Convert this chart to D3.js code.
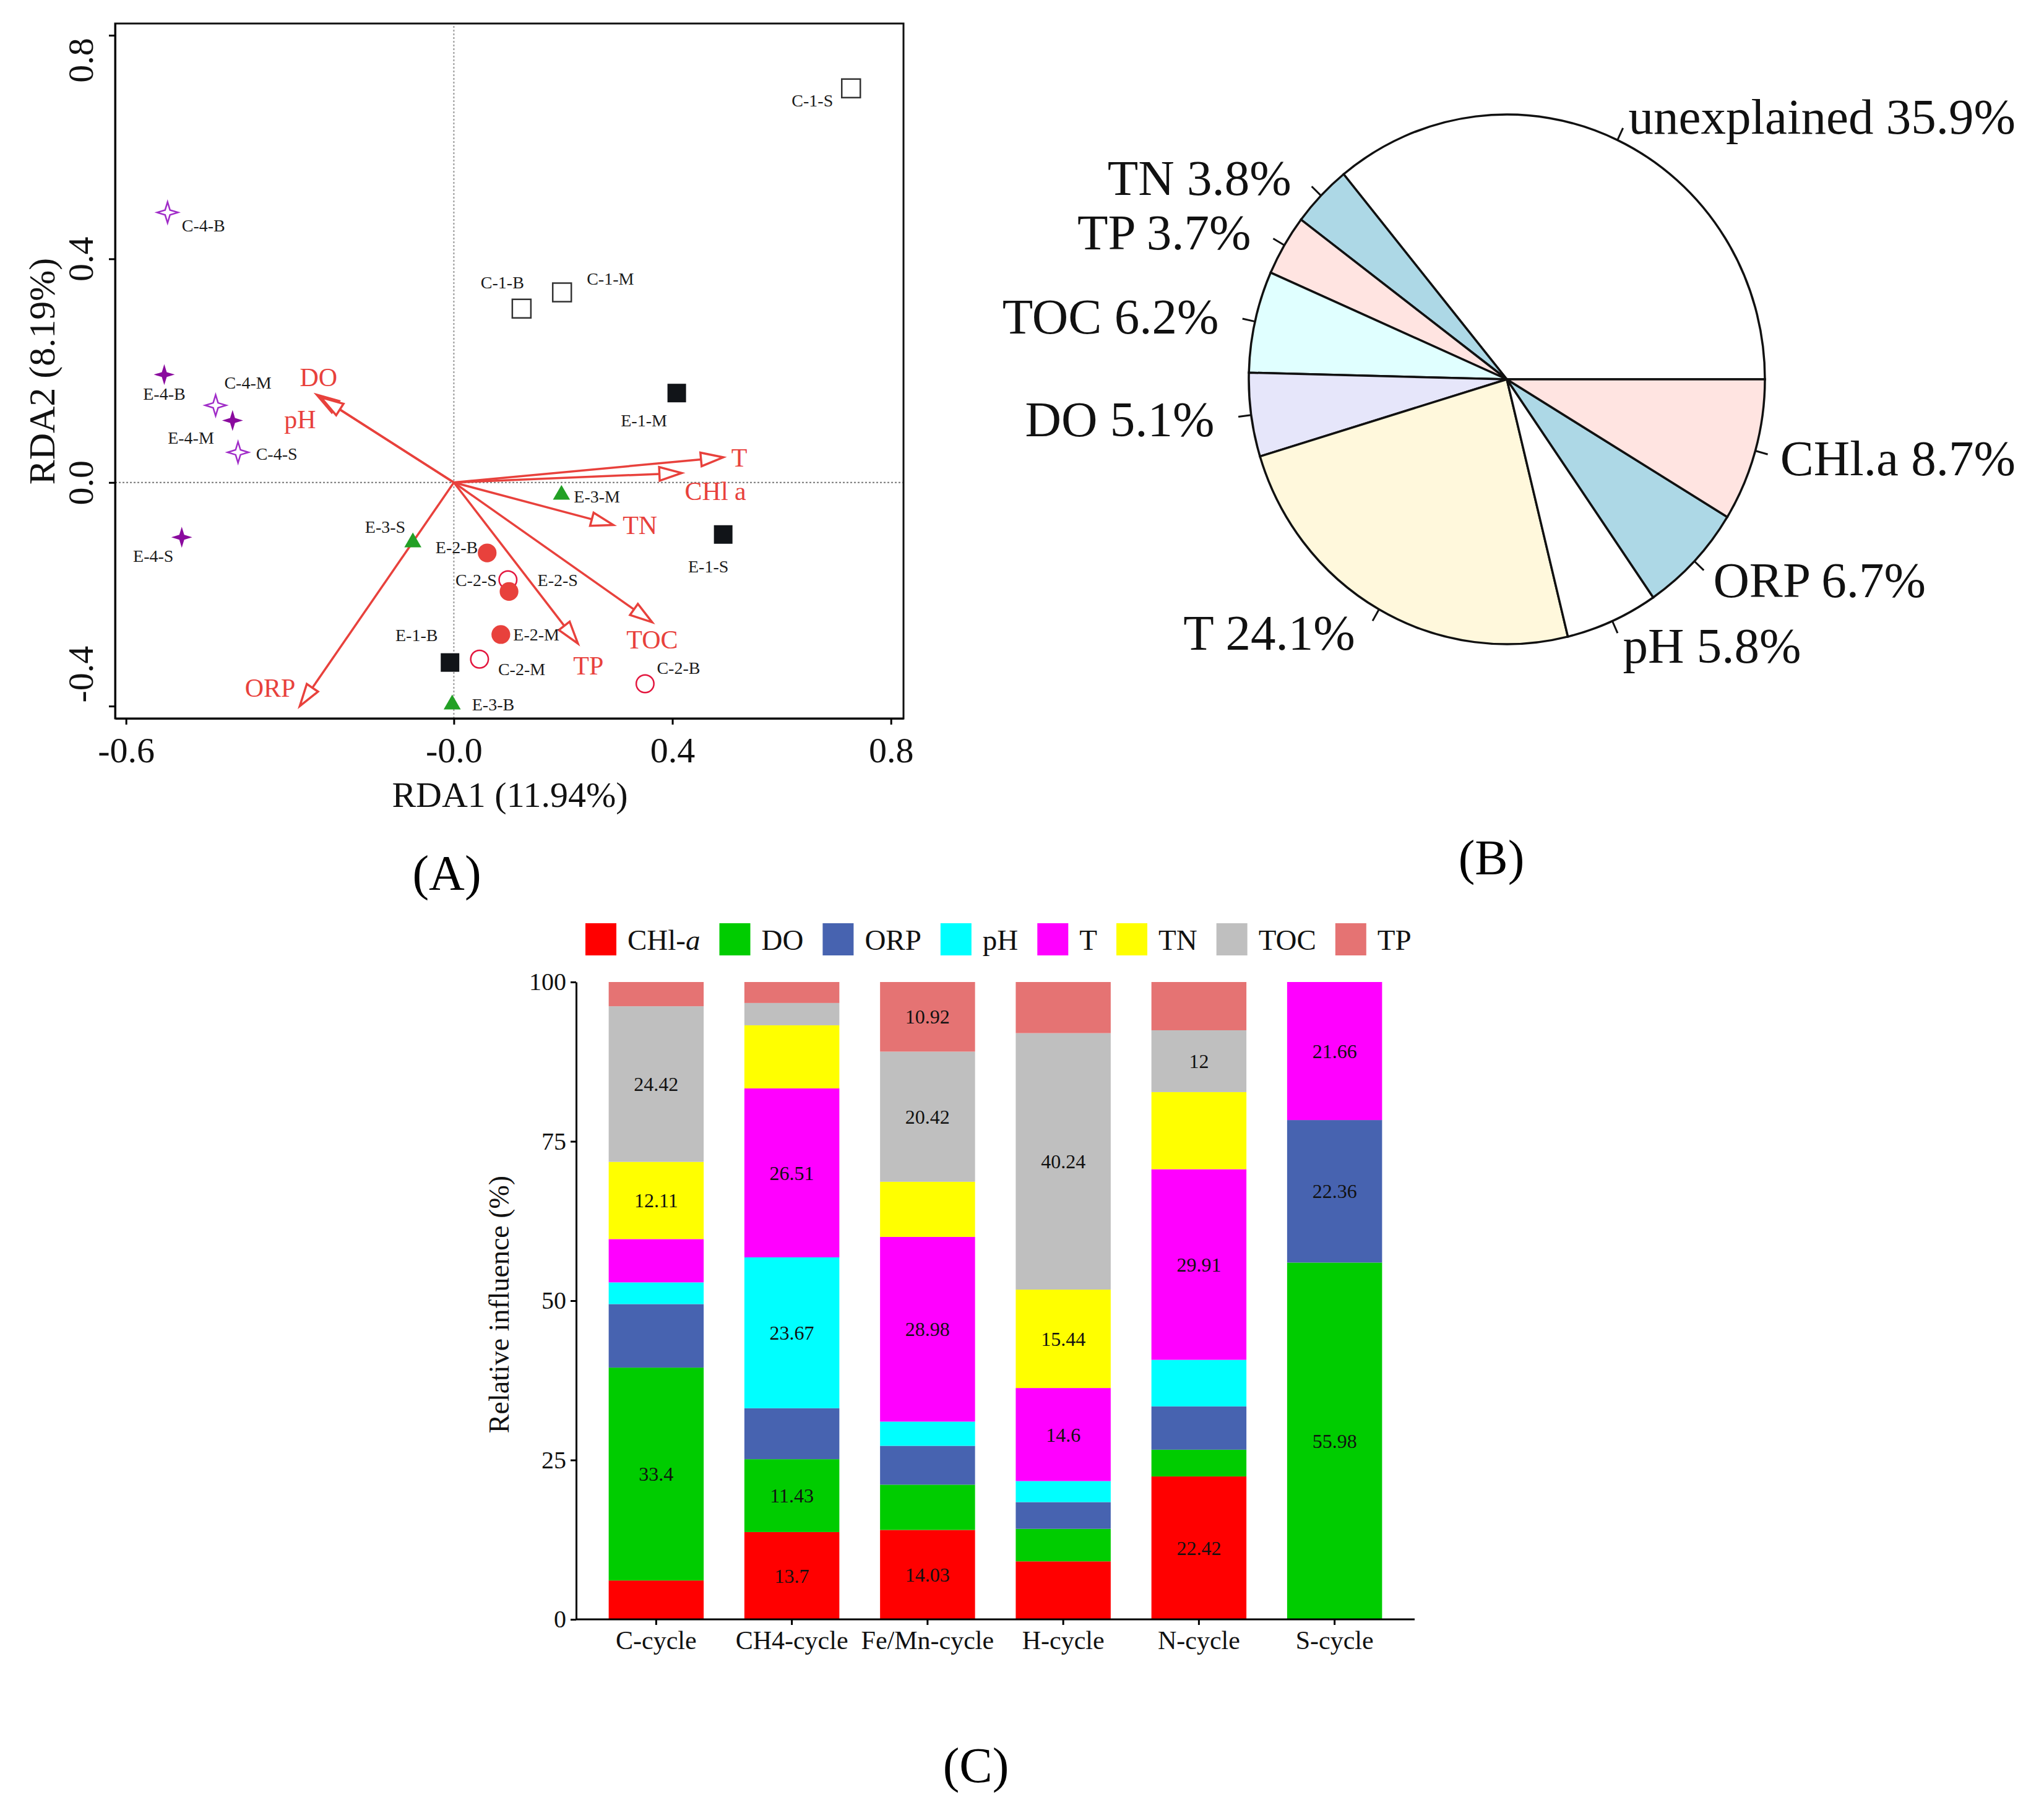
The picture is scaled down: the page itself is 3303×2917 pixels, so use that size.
<!DOCTYPE html>
<html>
<head>
<meta charset="utf-8">
<script src="https://cdn.jsdelivr.net/npm/d3@7"></script>
<style>
body { margin: 0; background: #fff; }
text { font-family: "Liberation Serif", "Times New Roman", serif; }
</style>
</head>
<body>
<svg id="svg1" width="3303" height="2917"></svg>
<script>
// ---------- (A) RDA biplot: sample scores
var sampleNames = ["C-1-S", "C-1-M", "C-1-B", "E-1-S", "E-1-M", "E-1-B",
                   "C-2-S", "C-2-M", "C-2-B", "E-2-S", "E-2-M", "E-2-B",
                   "E-3-S", "E-3-M", "E-3-B",
                   "C-4-S", "C-4-M", "C-4-B", "E-4-S", "E-4-M", "E-4-B"];
var rda1 = [0.727, 0.198, 0.124, 0.493, 0.408, -0.007,
            0.099, 0.047, 0.350, 0.101, 0.086, 0.061,
            -0.075, 0.197, -0.003,
            -0.395, -0.436, -0.524, -0.498, -0.405, -0.530];
var rda2 = [0.705, 0.340, 0.311, -0.093, 0.160, -0.322,
            -0.174, -0.316, -0.360, -0.195, -0.272, -0.126,
            -0.107, -0.022, -0.397,
            0.054, 0.138, 0.483, -0.098, 0.111, 0.193];

// environmental factor arrows
var envNames = ["DO", "pH", "T", "CHl a", "TN", "TOC", "TP", "ORP"];
var envRDA1 = [-0.251, -0.243, 0.493, 0.417, 0.292, 0.363, 0.227, -0.282];
var envRDA2 = [0.157, 0.152, 0.045, 0.017, -0.076, -0.250, -0.288, -0.400];

var xTicksA = [-0.6, 0, 0.4, 0.8];
var xTickLabelsA = ["-0.6", "-0.0", "0.4", "0.8"];
var yTicksA = [-0.4, 0, 0.4, 0.8];
var yTickLabelsA = ["-0.4", "0.0", "0.4", "0.8"];

// ---------- (B) variance partition pie
var pieNames = ["unexplained", "TN", "TP", "TOC", "DO", "T", "pH", "ORP", "CHl.a"];
var pieValues = [35.9, 3.8, 3.7, 6.2, 5.1, 24.1, 5.8, 6.7, 8.7];

// ---------- (C) relative influence, stacked bars
var cycles = ["C-cycle", "CH4-cycle", "Fe/Mn-cycle", "H-cycle", "N-cycle", "S-cycle"];
var factors = ["CHl-a", "DO", "ORP", "pH", "T", "TN", "TOC", "TP"];
var chlaVals = [6.1, 13.7, 14.03, 9.1, 22.42, 0];
var doVals   = [33.4, 11.43, 7.1, 5.1, 4.2, 55.98];
var orpVals  = [9.97, 8.0, 6.1, 4.2, 6.8, 22.36];
var phVals   = [3.4, 23.67, 3.8, 3.3, 7.3, 0];
var tVals    = [6.8, 26.51, 28.98, 14.6, 29.91, 21.66];
var tnVals   = [12.11, 9.9, 8.65, 15.44, 12.1, 0];
var tocVals  = [24.42, 3.5, 20.42, 40.24, 9.7, 0];
var tpVals   = [3.8, 3.29, 10.92, 8.02, 7.57, 0];
var yTicksC = [0, 25, 50, 75, 100];
// numbers printed inside the bars: [cycle, factor, text]
var barTexts = [
    ["C-cycle", "DO", "33.4"], ["C-cycle", "TN", "12.11"], ["C-cycle", "TOC", "24.42"],
    ["CH4-cycle", "CHl-a", "13.7"], ["CH4-cycle", "DO", "11.43"], ["CH4-cycle", "pH", "23.67"], ["CH4-cycle", "T", "26.51"],
    ["Fe/Mn-cycle", "CHl-a", "14.03"], ["Fe/Mn-cycle", "T", "28.98"], ["Fe/Mn-cycle", "TOC", "20.42"], ["Fe/Mn-cycle", "TP", "10.92"],
    ["H-cycle", "T", "14.6"], ["H-cycle", "TN", "15.44"], ["H-cycle", "TOC", "40.24"],
    ["N-cycle", "CHl-a", "22.42"], ["N-cycle", "T", "29.91"], ["N-cycle", "TOC", "12"],
    ["S-cycle", "DO", "55.98"], ["S-cycle", "ORP", "22.36"], ["S-cycle", "T", "21.66"]
];

// ---------- layout / style (not data)
// label anchor, dx, dy relative to the point
var sampleLabelPos = {
    "C-1-S": ["end", -29, 19], "C-1-B": ["middle", -31, -43], "C-1-M": ["start", 40, -22],
    "E-1-M": ["middle", -53, 44], "E-1-S": ["middle", -24, 51], "E-1-B": ["middle", -54, -44],
    "C-4-B": ["start", 23, 21], "E-4-B": ["middle", 0, 31], "C-4-M": ["start", 14, -37],
    "E-4-M": ["end", -30, 28], "C-4-S": ["start", 29, 2], "E-4-S": ["middle", -46, 30],
    "E-3-M": ["start", 20, 3], "E-3-S": ["end", -12, -25], "E-3-B": ["start", 32, 0],
    "E-2-B": ["end", -15, -9], "C-2-S": ["end", -18, 0], "E-2-S": ["start", 46, -19],
    "E-2-M": ["start", 20, 0], "C-2-M": ["start", 30, 16], "C-2-B": ["start", 19, -26]
};
var envLabelPos = {
    "DO": ["middle", 3, -29], "pH": ["middle", -34, 35], "T": ["start", 13, 0],
    "CHl a": ["start", 5, 29], "TN": ["start", 15, 0], "TOC": ["middle", 0, 28],
    "TP": ["middle", 17, 35], "ORP": ["end", -7, -30]
};
// end labels of the left axis are pulled inwards in the original
var yTickShiftA = { "0.8": 40, "-0.4": -52 };

var star4 = {
    draw: function (ctx, size) {
        var R = Math.sqrt(size) / 2, r = R * 0.33;
        for (var i = 0; i < 8; i++) {
            var a = i * Math.PI / 4;
            var rr = (i % 2) ? r : R;
            var px = rr * Math.sin(a), py = -rr * Math.cos(a);
            if (i == 0) ctx.moveTo(px, py); else ctx.lineTo(px, py);
        }
        ctx.closePath();
    }
};

var groupStyle = {
    "C-1": { shape: d3.symbolSquare, size: 900, fill: "#fff", stroke: "#333" },
    "E-1": { shape: d3.symbolSquare, size: 900, fill: "#111418", stroke: "none" },
    "C-2": { shape: d3.symbolCircle, size: 640, fill: "#fff", stroke: "#e3163e" },
    "E-2": { shape: d3.symbolCircle, size: 720, fill: "#e8413c", stroke: "none" },
    "E-3": { shape: d3.symbolTriangle, size: 330, fill: "#22a025", stroke: "none" },
    "C-4": { shape: star4, size: 1150, fill: "#fff", stroke: "#a02cc8" },
    "E-4": { shape: star4, size: 1150, fill: "#8a0a9e", stroke: "none" }
};

var arrowRed = "#e8413c";
var svg = d3.select("#svg1");

// ======================= panel A =======================
var xA = d3.scaleLinear().domain([-0.62, 0.823]).range([186, 1460]);
var yA = d3.scaleLinear().domain([-0.422, 0.821]).range([1161, 38]);
var gA = svg.append("g");

// dotted zero lines
gA.append("line")
    .attr("x1", xA(0)).attr("x2", xA(0))
    .attr("y1", yA.range()[0]).attr("y2", yA.range()[1])
    .attr("stroke", "#999").attr("stroke-width", 2).attr("stroke-dasharray", "3,3");
gA.append("line")
    .attr("x1", xA.range()[0]).attr("x2", xA.range()[1])
    .attr("y1", yA(0)).attr("y2", yA(0))
    .attr("stroke", "#777").attr("stroke-width", 2).attr("stroke-dasharray", "3,3");

// frame
gA.append("rect")
    .attr("x", xA.range()[0]).attr("y", yA.range()[1])
    .attr("width", xA.range()[1] - xA.range()[0])
    .attr("height", yA.range()[0] - yA.range()[1])
    .attr("fill", "none").attr("stroke", "#111").attr("stroke-width", 3);

var axA_x = gA.append("g")
    .attr("transform", "translate(0," + yA.range()[0] + ")")
    .call(d3.axisBottom(xA).tickValues(xTicksA).tickSize(10).tickSizeOuter(0)
        .tickFormat(function (d, i) { return xTickLabelsA[i]; }));
axA_x.select(".domain").attr("stroke-width", 3);
axA_x.selectAll(".tick line").attr("stroke-width", 3);
axA_x.selectAll(".tick text")
    .attr("font-family", "Liberation Serif").attr("font-size", 58)
    .attr("fill", "#111").attr("dy", "1.0em");

var axA_y = gA.append("g")
    .attr("transform", "translate(" + xA.range()[0] + ",0)")
    .call(d3.axisLeft(yA).tickValues(yTicksA).tickSize(10).tickSizeOuter(0)
        .tickFormat(function (d, i) { return yTickLabelsA[i]; }));
axA_y.select(".domain").attr("stroke-width", 3);
axA_y.selectAll(".tick line").attr("stroke-width", 3);
axA_y.selectAll(".tick text")
    .attr("font-family", "Liberation Serif").attr("font-size", 58).attr("fill", "#111")
    .attr("x", 0).attr("dy", 0)
    .attr("text-anchor", "middle")
    .attr("transform", function (d, i) {
        var s = yTickShiftA[yTickLabelsA[i]] || 0;
        return "translate(-36," + s + ") rotate(-90)";
    });

gA.append("text")
    .attr("x", 824).attr("y", 1304)
    .attr("text-anchor", "middle").attr("font-size", 58).attr("fill", "#111")
    .text("RDA1 (11.94%)");
gA.append("text")
    .attr("transform", "translate(88,600) rotate(-90)")
    .attr("text-anchor", "middle").attr("font-size", 60).attr("fill", "#111")
    .text("RDA2 (8.19%)");

// arrows
envNames.forEach(function (n, i) {
    var x0 = xA(0), y0 = yA(0);
    var x1 = xA(envRDA1[i]), y1 = yA(envRDA2[i]);
    var ang = Math.atan2(y1 - y0, x1 - x0);
    var hl = 36, hw = 11;
    var bx = x1 - hl * Math.cos(ang), by = y1 - hl * Math.sin(ang);
    gA.append("line")
        .attr("x1", x0).attr("y1", y0).attr("x2", bx).attr("y2", by)
        .attr("stroke", arrowRed).attr("stroke-width", 3.5);
    gA.append("polygon")
        .attr("points", [[x1, y1],
            [bx + hw * Math.sin(ang), by - hw * Math.cos(ang)],
            [bx - hw * Math.sin(ang), by + hw * Math.cos(ang)]].join(" "))
        .attr("fill", "#fff").attr("stroke", arrowRed).attr("stroke-width", 3.5)
        .attr("stroke-linejoin", "miter");
    var lp = envLabelPos[n];
    gA.append("text")
        .attr("x", x1 + lp[1]).attr("y", y1 + lp[2])
        .attr("dy", "0.35em")
        .attr("text-anchor", lp[0]).attr("font-size", 42).attr("fill", arrowRed)
        .text(n);
});

// sample points
sampleNames.forEach(function (n, i) {
    var st = groupStyle[n.slice(0, 3)];
    var px = xA(rda1[i]), py = yA(rda2[i]);
    gA.append("path")
        .attr("d", d3.symbol().type(st.shape).size(st.size)())
        .attr("transform", "translate(" + px + "," + py + ")")
        .attr("fill", st.fill).attr("stroke", st.stroke).attr("stroke-width", 2.5);
    var lp = sampleLabelPos[n];
    gA.append("text")
        .attr("x", px + lp[1]).attr("y", py + lp[2]).attr("dy", "0.35em")
        .attr("text-anchor", lp[0]).attr("font-size", 28).attr("fill", "#1a1a1a")
        .text(n);
});

svg.append("text").attr("x", 722).attr("y", 1438)
    .attr("text-anchor", "middle").attr("font-size", 80).attr("fill", "#000").text("(A)");

// ======================= panel B =======================
var pieCx = 2435, pieCy = 613, rx = 417, ry = 428;
var pieCols = ["#FFFFFF", "#ADD8E6", "#FFE4E1", "#E0FFFF", "#E6E6FA", "#FFF8DC"];
var pieData = pieNames.map(function (n, i) { return { name: n, value: pieValues[i], idx: i }; });
// counter-clockwise from 3 o'clock
var arcs = d3.pie().sort(null).value(function (d) { return d.value; })
    .startAngle(Math.PI / 2).endAngle(Math.PI / 2 - 2 * Math.PI)(pieData);
var arcGen = d3.arc().innerRadius(0).outerRadius(rx);

var gB = svg.append("g").attr("transform", "translate(" + pieCx + "," + pieCy + ")");
gB.append("g").attr("transform", "scale(1," + (ry / rx) + ")")
    .selectAll("path").data(arcs).enter().append("path")
    .attr("d", arcGen)
    .attr("fill", function (d) { return pieCols[d.data.idx % pieCols.length]; })
    .attr("stroke", "#111").attr("stroke-width", 3.5)
    .attr("vector-effect", "non-scaling-stroke");

arcs.forEach(function (a) {
    var m = (a.startAngle + a.endAngle) / 2;
    var sx = Math.sin(m), sy = -Math.cos(m);
    gB.append("line")
        .attr("x1", rx * sx).attr("y1", ry * sy)
        .attr("x2", 1.05 * rx * sx).attr("y2", 1.05 * ry * sy)
        .attr("stroke", "#111").attr("stroke-width", 3);
    gB.append("text")
        .attr("x", 1.1 * rx * sx + (sx < 0 ? -18 : 0)).attr("y", 1.1 * ry * sy).attr("dy", "0.35em")
        .attr("text-anchor", sx < 0 ? "end" : "start")
        .attr("font-size", 81).attr("fill", "#111")
        .text(a.data.name + " " + a.data.value + "%");
});

svg.append("text").attr("x", 2410).attr("y", 1413)
    .attr("text-anchor", "middle").attr("font-size", 80).attr("fill", "#000").text("(B)");

// ======================= panel C =======================
var factorCols = ["#FF0000", "#00CC00", "#4763B0", "#00FFFF", "#FF00FF", "#FFFF00", "#BFBFBF", "#E57373"];
var seriesVals = [chlaVals, doVals, orpVals, phVals, tVals, tnVals, tocVals, tpVals];
var rows = cycles.map(function (c, j) {
    var r = { cycle: c };
    factors.forEach(function (f, k) { r[f] = seriesVals[k][j]; });
    return r;
});
var stacked = d3.stack().keys(factors)(rows);

var xC = d3.scaleBand().domain(cycles).range([931, 2286]).paddingInner(0.3).paddingOuter(0.24);
var yC = d3.scaleLinear().domain([0, 100]).range([2617, 1587]);
var color = d3.scaleOrdinal().domain(factors).range(factorCols);
var gC = svg.append("g");

gC.selectAll("g.layer").data(stacked).enter().append("g")
    .attr("class", "layer")
    .attr("fill", function (d) { return color(d.key); })
    .selectAll("rect").data(function (d) { return d; }).enter().append("rect")
    .attr("x", function (d) { return xC(d.data.cycle); })
    .attr("width", xC.bandwidth())
    .attr("y", function (d) { return yC(d[1]); })
    .attr("height", function (d) { return yC(d[0]) - yC(d[1]); });

barTexts.forEach(function (b) {
    var k = factors.indexOf(b[1]);
    var j = cycles.indexOf(b[0]);
    var seg = stacked[k][j];
    gC.append("text")
        .attr("x", xC(b[0]) + xC.bandwidth() / 2)
        .attr("y", yC((seg[0] + seg[1]) / 2)).attr("dy", "0.35em")
        .attr("text-anchor", "middle").attr("font-size", 32).attr("fill", "#111")
        .text(b[2]);
});

var axC_x = gC.append("g").attr("transform", "translate(0," + yC(0) + ")")
    .call(d3.axisBottom(xC).tickSize(9).tickSizeOuter(0));
axC_x.select(".domain").attr("stroke-width", 3).attr("d", "M931,0H2286");
axC_x.selectAll(".tick line").attr("stroke-width", 3);
axC_x.selectAll(".tick text").attr("font-family", "Liberation Serif")
    .attr("font-size", 42).attr("fill", "#111").attr("dy", "0.85em");

var axC_y = gC.append("g").attr("transform", "translate(931,0)")
    .call(d3.axisLeft(yC).tickValues(yTicksC).tickSize(9).tickSizeOuter(0));
axC_y.select(".domain").attr("stroke-width", 3);
axC_y.selectAll(".tick line").attr("stroke-width", 3);
axC_y.selectAll(".tick text").attr("font-family", "Liberation Serif")
    .attr("font-size", 40).attr("fill", "#111").attr("x", -16);

gC.append("text")
    .attr("transform", "translate(822,2108) rotate(-90)")
    .attr("text-anchor", "middle").attr("font-size", 46).attr("fill", "#111")
    .text("Relative influence (%)");

// legend
var lx = 946;
factors.forEach(function (f, k) {
    gC.append("rect").attr("x", lx).attr("y", 1492).attr("width", 50).attr("height", 52)
        .attr("fill", factorCols[k]);
    var t = gC.append("text").attr("x", lx + 68).attr("y", 1535)
        .attr("font-size", 47).attr("fill", "#111");
    if (f == "CHl-a") {
        t.append("tspan").text("CHl-");
        t.append("tspan").attr("font-style", "italic").text("a");
    } else {
        t.text(f);
    }
    lx = lx + 68 + t.node().getComputedTextLength() + 31;
});

svg.append("text").attr("x", 1577).attr("y", 2880)
    .attr("text-anchor", "middle").attr("font-size", 80).attr("fill", "#000").text("(C)");
</script>
</body>
</html>
